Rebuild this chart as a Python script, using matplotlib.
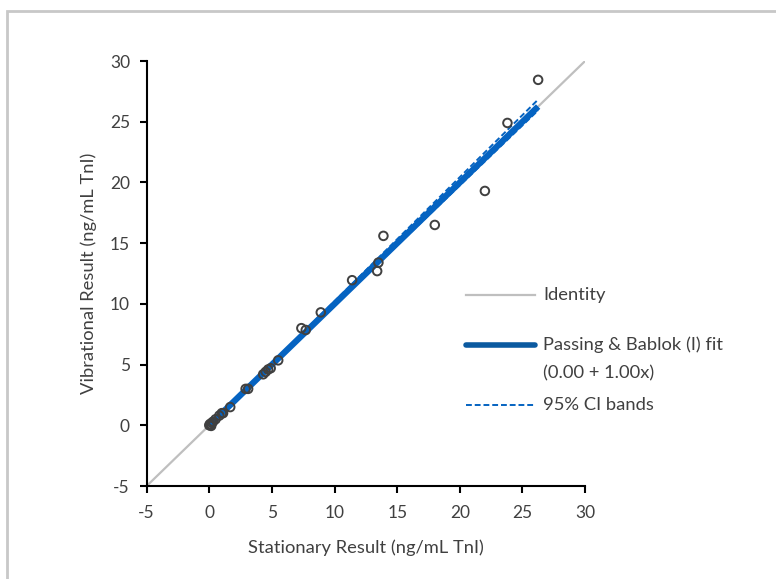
import matplotlib
matplotlib.use("Agg")
import matplotlib.pyplot as plt
from matplotlib.patches import Rectangle
from matplotlib.lines import Line2D
import numpy as np

plt.rcParams['font.family'] = ['Lato', 'DejaVu Sans']
plt.rcParams['axes.unicode_minus'] = False

# data
stationary = [0.0, 0.05, 0.1, 0.15, 0.2, 0.3, 0.5, 0.8, 1.0, 1.1, 1.67,
              2.9, 3.1, 4.3, 4.5, 4.7, 4.9, 5.5,
              7.35, 7.7, 8.9, 11.4, 13.4, 13.5, 13.9, 18.0, 22.0, 23.8, 26.25]
vibrational = [0.0, 0.1, 0.05, -0.05, 0.2, 0.3, 0.5, 0.8, 1.0, 1.0, 1.5,
               3.0, 3.0, 4.2, 4.4, 4.6, 4.7, 5.35,
               8.0, 7.85, 9.3, 11.95, 12.7, 13.4, 15.6, 16.5, 19.3, 24.9, 28.45]
fit_intercept, fit_slope = 0.0, 1.0
ci_upper_slope, ci_lower_slope = 1.022, 0.988
ticks = [-5, 0, 5, 10, 15, 20, 25, 30]

W, H = 776, 579
fig = plt.figure(figsize=(W / 100, H / 100), dpi=100)
ax = fig.add_axes([0.189, 0.1606, 0.565, 0.734])

txt = '#404040'
ax.plot([-5, 30], [-5, 30], color='#bfbfbf', lw=1.6, zorder=1)
xs = np.array([min(stationary), max(stationary)])
ax.plot(xs, fit_intercept + fit_slope * xs, color='#0563c1', lw=4.5, zorder=2,
        solid_capstyle='butt')
ax.plot(xs, ci_upper_slope * xs, color='#0563c1', lw=1.4, ls=(0, (3, 1.5)), zorder=2)
ax.plot(xs, ci_lower_slope * xs, color='#0563c1', lw=1.4, ls=(0, (3, 1.5)), zorder=2)
ax.scatter(stationary, vibrational, s=38, facecolors='none', edgecolors='#404040',
           linewidths=1.4, zorder=3)

ax.set_xlim(-5, 30)
ax.set_ylim(-5, 30)
ax.set_xticks(ticks)
ax.set_yticks(ticks)
for s in ['top', 'right']:
    ax.spines[s].set_visible(False)
for s in ['left', 'bottom']:
    ax.spines[s].set_color('black')
    ax.spines[s].set_linewidth(1.5)
ax.tick_params(direction='out', length=5, width=1.5, colors='black',
               labelcolor=txt, labelsize=12.5)
ax.tick_params(axis='x', pad=9)
ax.tick_params(axis='y', pad=7)
ax.set_xlabel('Stationary Result (ng/mL TnI)', color=txt, fontsize=13.2, labelpad=13)
ax.set_ylabel('Vibrational Result (ng/mL TnI)', color=txt, fontsize=13.2, labelpad=9)

# manual legend (figure pixel positions from the top-left)
def fx(px):
    return px / W

def fy(py):
    return 1 - py / H

leg_items = [
    (295, dict(color='#bfbfbf', lw=1.6), 'Identity'),
    (345, dict(color='#0b5aa0', lw=4, solid_capstyle='round'), 'Passing & Bablok (I) fit'),
    (405, dict(color='#0563c1', lw=1.4, ls=(0, (3, 1.5))), '95% CI bands'),
]
for py, style, label in leg_items:
    fig.add_artist(Line2D([fx(466), fx(535)], [fy(py), fy(py)],
                          transform=fig.transFigure, **style))
    fig.text(fx(543), fy(py), label, color=txt, fontsize=13.2, va='center', ha='left')
fig.text(fx(543), fy(373), '(0.00 + 1.00x)', color=txt, fontsize=13.2,
         va='center', ha='left')

fig.patches.append(Rectangle((7 / W, -0.1), 1.2, 1.1 - 10.5 / H,
                             transform=fig.transFigure, fill=False,
                             edgecolor='#c8c8c8', lw=2))

fig.savefig('out.png', dpi=100)
